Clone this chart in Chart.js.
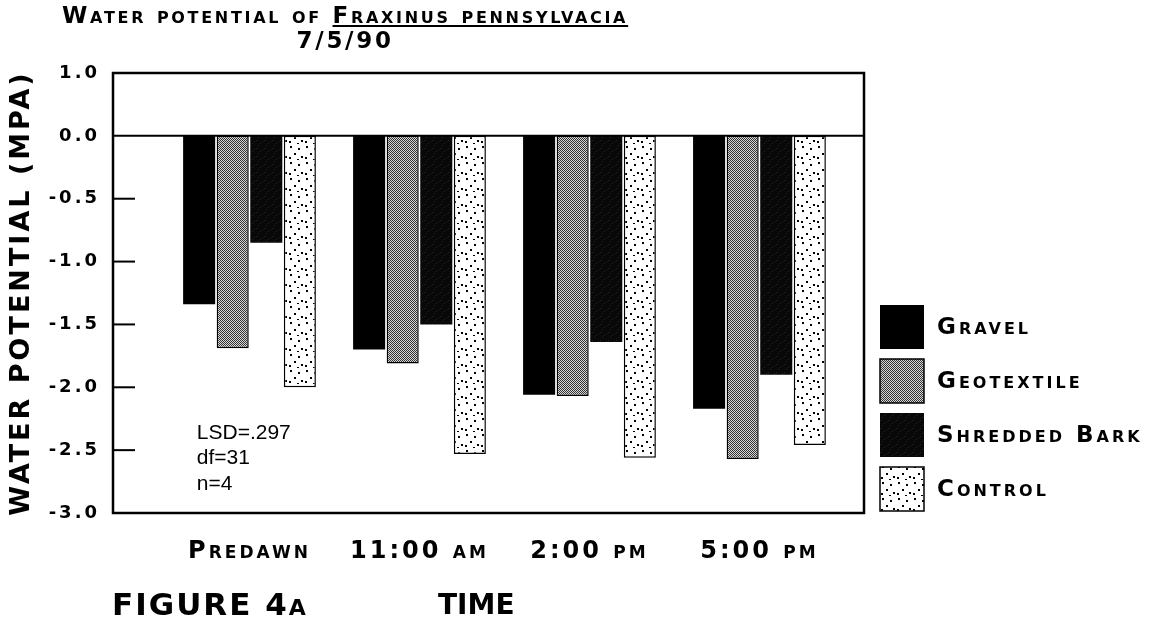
<!DOCTYPE html>
<html>
<head>
<meta charset="utf-8">
<title>Water potential of Fraxinus pennsylvacia</title>
<script src="https://cdn.jsdelivr.net/npm/chart.js@4.4.0/dist/chart.umd.min.js"></script>
<style>
  html, body { margin: 0; padding: 0; background: #fff; }
  #wrap { position: relative; width: 1156px; height: 632px; overflow: hidden; }
  #chart { position: absolute; left: 0; top: 0; }
  .cap {
    position: absolute;
    font-family: "DejaVu Sans", sans-serif;
    font-weight: bold;
    font-variant: small-caps;
    color: #000;
    white-space: nowrap;
  }
  #title { left: 62px; top: 3px; font-size: 23px; line-height: 25px; letter-spacing: 2.7px; text-align: center; }
  #title u { text-underline-offset: 2px; text-decoration-thickness: 2px; }
  #fig { left: 112px; top: 589px; font-size: 31px; line-height: 31px; letter-spacing: 2px; }
  #time { left: 438px; top: 591px; font-size: 28px; line-height: 28px; }
</style>
</head>
<body>
<div id="wrap">
  <canvas id="chart" width="1156" height="632"></canvas>
  <div id="title" class="cap">Water potential of <u>Fraxinus pennsylvacia</u><br>7/5/90</div>
  <div id="fig" class="cap">FIGURE 4a</div>
  <div id="time" class="cap">TIME</div>
</div>
<script>
// データ
const categories = ['Predawn', '11:00 am', '2:00 pm', '5:00 pm'];
const seriesNames = ['Gravel', 'Geotextile', 'Shredded Bark', 'Control'];
const gravel = [-1.34, -1.70, -2.06, -2.17];
const geotextile = [-1.69, -1.81, -2.07, -2.57];
const shreddedBark = [-0.85, -1.50, -1.64, -1.90];
const control = [-2.00, -2.53, -2.56, -2.46];
const yTickLabels = ['1.0', '0.0', '-0.5', '-1.0', '-1.5', '-2.0', '-2.5', '-3.0'];
const statLines = ['LSD=.297', 'df=31', 'n=4'];

// 注記の位置（データ座標）
const statPos = { x: -0.31, y: -2.41 };

// 塗りパターン
function makePattern(size, bg, dots, dotColor, dotSize) {
    const c = document.createElement('canvas');
    c.width = size;
    c.height = size;
    const g = c.getContext('2d');
    g.fillStyle = bg;
    g.fillRect(0, 0, size, size);
    g.fillStyle = dotColor;
    dots.forEach(([x, y]) => g.fillRect(x, y, dotSize, dotSize));
    return g.createPattern(c, 'repeat');
}

const fills = [
    '#000',
    makePattern(2, '#d6d6d6', [[0, 0], [1, 1]], '#333', 1),
    makePattern(8, '#080808', [[2, 1], [6, 5], [4, 7], [0, 4]], '#262626', 1),
    makePattern(16, '#fff', [[2, 2], [10, 4], [6, 9], [13, 12], [1, 13], [9, 15]], '#000', 2)
];
const borders = [0, 1.5, 0, 1.5];

const seriesValues = [gravel, geotextile, shreddedBark, control];
const datasets = seriesValues.map((vals, i) => ({
    label: seriesNames[i],
    data: vals.map((v, j) => ({ x: j, y: v })),
    backgroundColor: fills[i],
    borderColor: '#000',
    borderWidth: borders[i],
    borderSkipped: false,
    categoryPercentage: 0.79,
    barPercentage: 0.955
}));

const capsFont = 'small-caps bold';
const letterSpace = '3px';

// 枠・目盛り・注記
const framePlugin = {
    id: 'frame',
    beforeUpdate(chart) { chart.ctx.letterSpacing = letterSpace; },
    beforeDraw(chart) { chart.ctx.letterSpacing = letterSpace; },
    afterDatasetsDraw(chart) {
        const { ctx, chartArea: a, scales: { x, y } } = chart;
        ctx.save();
        ctx.strokeStyle = '#000';
        ctx.lineWidth = 2;
        const y0 = y.getPixelForValue(0);
        ctx.beginPath();
        ctx.moveTo(a.left, y0);
        ctx.lineTo(a.right, y0);
        ctx.stroke();
        y.ticks.forEach(t => {
            if (t.value <= y.min || t.value >= 0) return;
            const py = y.getPixelForValue(t.value);
            ctx.beginPath();
            ctx.moveTo(a.left, py);
            ctx.lineTo(a.left + 22, py);
            ctx.stroke();
        });
        ctx.lineWidth = 2.5;
        ctx.strokeRect(a.left, a.top, a.right - a.left, a.bottom - a.top);

        ctx.letterSpacing = '0px';
        ctx.fillStyle = '#000';
        ctx.font = '21px "Liberation Sans", Arial, sans-serif';
        ctx.textBaseline = 'alphabetic';
        ctx.textAlign = 'left';
        const nx = x.getPixelForValue(statPos.x);
        const ny = y.getPixelForValue(statPos.y);
        statLines.forEach((s, i) => ctx.fillText(s, nx, ny + i * 25.5));
        ctx.restore();
    }
};

// 右側の凡例（下揃え）
const sideLegend = {
    id: 'sideLegend',
    afterDraw(chart) {
        const { ctx, chartArea: a } = chart;
        const list = chart.data.datasets;
        const box = 44, gap = 10;
        ctx.save();
        ctx.letterSpacing = letterSpace;
        ctx.font = capsFont + ' 23px "DejaVu Sans", sans-serif';
        ctx.textBaseline = 'middle';
        ctx.textAlign = 'left';
        list.forEach((ds, i) => {
            const top = a.bottom - 2 - (list.length - i) * (box + gap) + gap;
            const left = a.right + 16;
            ctx.fillStyle = ds.backgroundColor;
            ctx.fillRect(left, top, box, box);
            if (ds.borderWidth) {
                ctx.lineWidth = ds.borderWidth;
                ctx.strokeStyle = ds.borderColor;
                ctx.strokeRect(left, top, box, box);
            }
            ctx.fillStyle = '#000';
            ctx.fillText(ds.label, left + box + 13, top + box / 2 + 1);
        });
        ctx.restore();
    }
};

new Chart(document.getElementById('chart'), {
    type: 'bar',
    data: { datasets },
    plugins: [framePlugin, sideLegend],
    options: {
        responsive: false,
        animation: false,
        devicePixelRatio: 1,
        layout: { padding: { top: 73, right: 292, bottom: 0, left: 0 } },
        plugins: {
            title: { display: false },
            tooltip: { enabled: false },
            legend: { display: false }
        },
        scales: {
            x: {
                type: 'linear',
                bounds: 'data',
                offset: false,
                min: -0.803,
                max: 3.615,
                grid: { display: false, drawTicks: false, offset: false },
                border: { display: false },
                // 目盛りはカテゴリ位置だけに置く
                afterBuildTicks(scale) {
                    scale.ticks = categories.map((c, i) => ({ value: i }));
                },
                afterFit(scale) { scale.height = 119; },
                ticks: {
                    autoSkip: false,
                    maxRotation: 0,
                    padding: 24,
                    color: '#000',
                    font: { family: '"DejaVu Sans", sans-serif', size: 24, weight: capsFont },
                    callback: v => categories[Math.round(v)] || ''
                }
            },
            y: {
                min: -3,
                max: 0.5,
                grid: { display: false, drawTicks: false },
                border: { display: false },
                afterFit(scale) { scale.width = 113; },
                ticks: {
                    stepSize: 0.5,
                    padding: 13,
                    color: '#000',
                    font: { family: '"DejaVu Sans", sans-serif', size: 18, weight: 'bold' },
                    callback: v => yTickLabels[Math.round((0.5 - v) / 0.5)]
                },
                title: {
                    display: true,
                    text: 'WATER POTENTIAL (MPA)',
                    color: '#000',
                    padding: { top: 6, bottom: 0 },
                    font: { family: '"DejaVu Sans", sans-serif', size: 27, weight: 'bold' }
                }
            }
        }
    }
});
</script>
</body>
</html>
